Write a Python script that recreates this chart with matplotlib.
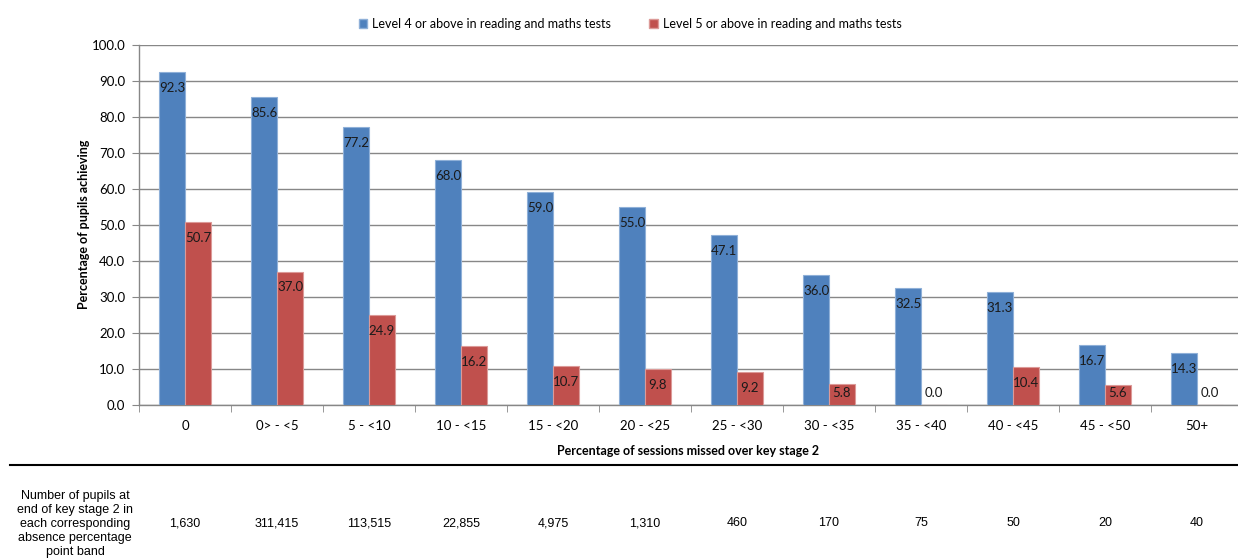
import matplotlib
matplotlib.use("Agg")
import matplotlib.pyplot as plt
from matplotlib.lines import Line2D
from matplotlib.patches import Patch
import numpy as np

categories = ["0", "0> - <5", "5 - <10", "10 - <15", "15 - <20", "20 - <25",
              "25 - <30", "30 - <35", "35 - <40", "40 - <45", "45 - <50", "50+"]
level4 = [92.3, 85.6, 77.2, 68.0, 59.0, 55.0, 47.1, 36.0, 32.5, 31.3, 16.7, 14.3]
level5 = [50.7, 37.0, 24.9, 16.2, 10.7, 9.8, 9.2, 5.8, 0.0, 10.4, 5.6, 0.0]
pupils = ["1,630", "311,415", "113,515", "22,855", "4,975", "1,310",
          "460", "170", "75", "50", "20", "40"]
series_names = ["Level 4 or above in reading and maths tests",
                "Level 5 or above in reading and maths tests"]
yticks = [0, 10, 20, 30, 40, 50, 60, 70, 80, 90, 100]
row_label = "Number of pupils at\nend of key stage 2 in\neach corresponding\nabsence percentage\npoint band"

BLUE = "#4F81BD"
RED = "#C0504D"
GRID = "#878787"
FONT = "Lato"

W, H = 1238, 560
fig = plt.figure(figsize=(W / 100, H / 100), dpi=100)
ax = fig.add_axes([139 / W, 155.3 / H, 1104 / W, 360 / H])

x = np.arange(len(categories))
bw = 0.2826
ax.bar(x - bw / 2, level4, bw, color=BLUE, edgecolor="#8FB0D8", linewidth=0.8, zorder=3)
ax.bar(x + bw / 2, level5, bw, color=RED, edgecolor="#DC9A98", linewidth=0.8, zorder=3)

ax.set_xlim(-0.5, len(categories) - 0.5)
ax.set_ylim(0, 100)
ax.set_yticks(yticks)
ax.set_yticklabels([f"{v:.1f}" for v in yticks], fontsize=9.5, family=FONT)
ax.yaxis.grid(True, color=GRID, linewidth=1, zorder=0)
ax.set_axisbelow(True)

ax.set_xticks(x)
ax.set_xticklabels(categories, fontsize=9.5, family=FONT)
ax.set_xticks(np.arange(len(categories) + 1) - 0.5, minor=True)
ax.tick_params(axis="x", which="major", length=0, pad=11)
ax.tick_params(axis="x", which="minor", length=5, direction="out", color=GRID)
ax.tick_params(axis="y", length=5, direction="out", color=GRID, pad=5)

for s in ["top", "right"]:
    ax.spines[s].set_visible(False)
for s in ["left", "bottom"]:
    ax.spines[s].set_color(GRID)
    ax.spines[s].set_linewidth(1)

# data labels (inside end)
for xs, vals in ((x - bw / 2, level4), (x + bw / 2, level5)):
    for xi, v in zip(xs, vals):
        ax.annotate(f"{v:.1f}", xy=(xi, max(v, 7.78)), xytext=(0, -11.5),
                    textcoords="offset points", ha="center", va="center",
                    fontsize=9.5, family=FONT, color="#1a1a1a", zorder=5)

ax.set_ylabel("Percentage of pupils achieving", fontsize=9, fontweight="bold", family=FONT)
ax.yaxis.set_label_coords(-(139 - 90) / 1104, 0.5)
fig.text(688 / W, 1 - 451 / H, "Percentage of sessions missed over key stage 2",
         ha="center", va="center", fontsize=9, fontweight="bold", family=FONT)

handles = [Patch(facecolor=BLUE, edgecolor="#8FB0D8"), Patch(facecolor=RED, edgecolor="#DC9A98")]
fig.legend(handles, series_names, loc="center", bbox_to_anchor=(630 / W, 1 - 24 / H), ncol=2,
           frameon=False, prop={"family": FONT, "size": 9},
           handlelength=0.7, handleheight=0.7, handletextpad=0.4, columnspacing=3.0)

# separator line
fig.add_artist(Line2D([10 / W, 1.0], [1 - 465 / H, 1 - 465 / H], color="black", linewidth=1.5))

# table row
fig.text(75 / W, 1 - 524 / H, row_label, ha="center", va="center", fontsize=9,
         family="Liberation Sans", linespacing=1.25)
for xi, p in zip(x, pupils):
    xf = ax.transData.transform((xi, 0))[0] / fig.dpi / fig.get_figwidth()
    fig.text(xf, 1 - 523 / H, p, ha="center", va="center", fontsize=9, family="Liberation Sans")

fig.savefig("out.png", dpi=100)
